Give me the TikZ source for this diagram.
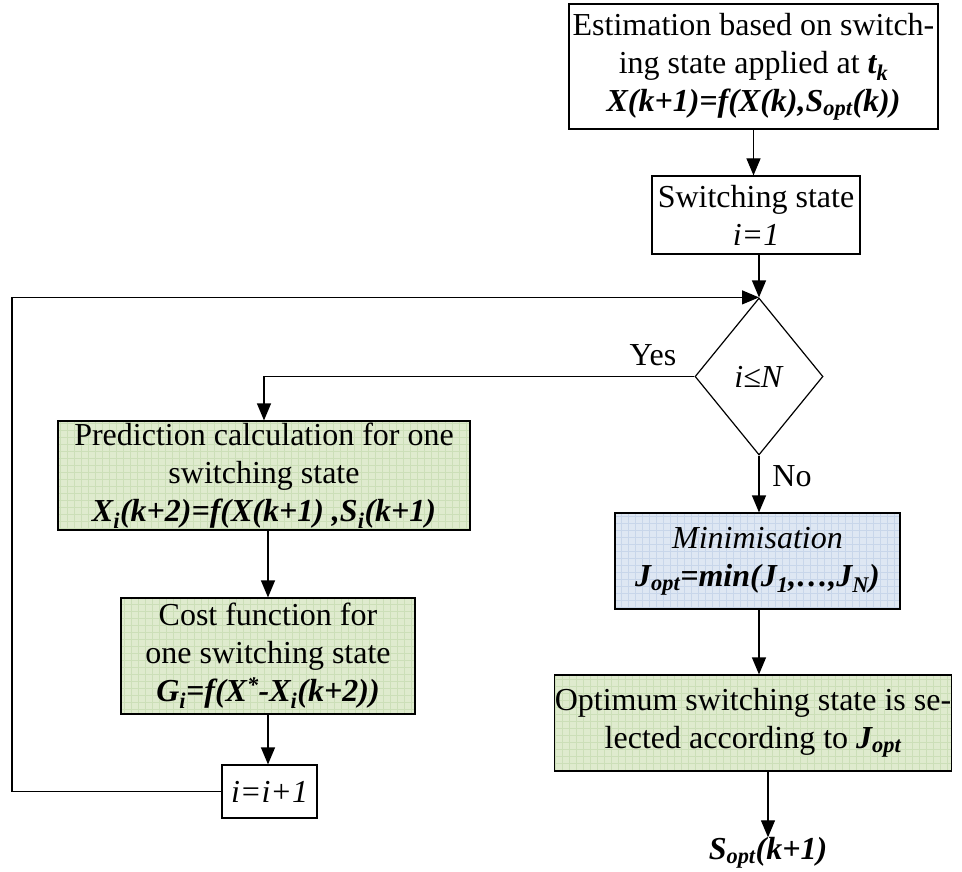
\documentclass[tikz,border=0pt]{standalone}
\usepackage{fontspec}
\setmainfont{Liberation Serif}
\usepackage{tikz}
\usetikzlibrary{shapes.geometric, arrows.meta, positioning}
\definecolor{boxgreen}{RGB}{223,235,206}
\definecolor{gridgreen}{RGB}{204,223,184}
\definecolor{boxblue}{RGB}{222,231,243}
\definecolor{gridblue}{RGB}{200,214,234}
\newcommand{\lo}[1]{\textsubscript{#1}}
\newcommand{\bi}[1]{\textbf{\textit{#1}}}
\tikzset{
    block/.style={rectangle, draw, line width=1.2pt, align=center, inner sep=0pt, font=\fontsize{32}{38}\selectfont},
    greenbox/.style={block, fill=boxgreen, path picture={\draw[line width=0.4pt, gridgreen] (path picture bounding box.south west) grid[step=7pt] (path picture bounding box.north east);}},
    bluebox/.style={block, fill=boxblue, path picture={\draw[line width=0.4pt, gridblue] (path picture bounding box.south west) grid[step=7pt] (path picture bounding box.north east);}},
    decision/.style={diamond, draw, line width=1.2pt, inner sep=0pt, font=\fontsize{32}{38}\selectfont},
    label/.style={font=\fontsize{32}{38}\selectfont, inner sep=0pt},
    arrow/.style={line width=1.2pt, -{Triangle[length=17pt, width=14pt]}}
}

\begin{document}
\begin{tikzpicture}[x=1pt, y=-1pt]
    \useasboundingbox (0,0) rectangle (962,872);

    % right column
    \node[block, minimum width=369, minimum height=125] (est) at (753.5,66.5)
        {Estimation based on switch-\\ing state applied at \bi{t\lo{k}}\\\bi{X(k+1)=f(X(k),S\lo{opt}(k))}};
    \node[block, minimum width=208, minimum height=78] (sw) at (756,215)
        {Switching state\\\textit{i=1}};
    \node[decision, minimum width=128, minimum height=157] (dec) at (759,376.5) {\textit{i≤N}};
    \node[bluebox, minimum width=285, minimum height=96] (mini) at (757.5,561)
        {\textit{Minimisation}\\\bi{J\lo{opt}=min(J\lo{1},…,J\lo{N})}};
    \node[greenbox, minimum width=394, minimum height=96] (optm) at (753,723)
        {Optimum switching state is se-\\lected according to \bi{J\lo{opt}}};
    \node[label] (sopt) at (768,853) {\bi{S\lo{opt}(k+1)}};

    % left column
    \node[greenbox, minimum width=412, minimum height=109] (pred) at (264,475.5)
        {Prediction calculation for one\\switching state\\\bi{X\lo{i}(k+2)=f(X(k+1) ,S\lo{i}(k+1)}};
    \node[greenbox, minimum width=294, minimum height=116] (cost) at (268,656)
        {Cost function for\\one switching state\\\bi{G\lo{i}=f(X\textsuperscript{*}-X\lo{i}(k+2))}};
    \node[block, minimum width=95, minimum height=53] (inc) at (269.5,791.5) {\textit{i=i+1}};

    \node[label] (yes) at (653,355) {Yes};
    \node[label] (no) at (792,476) {No};
    \coordinate (lp) at (12,791.5);

    % connectors
    \draw[arrow] (est.south) -- (est.south |- sw.north);
    \draw[arrow] (sw.south -| dec.north) -- (dec.north);
    \draw[arrow] (dec.west) -| (pred.north);
    \draw[arrow] (dec.south) -- (dec.south |- mini.north);
    \draw[arrow] (dec.south |- mini.south) -- (dec.south |- optm.north);
    \draw[arrow] (sopt.north |- optm.south) -- (sopt.north);
    \draw[arrow] (pred.south -| cost.north) -- (cost.north);
    \draw[arrow] (cost.south) -- (cost.south |- inc.north);
    \draw[arrow] (inc.west) -- (lp) |- (dec.north);
\end{tikzpicture}
\end{document}
